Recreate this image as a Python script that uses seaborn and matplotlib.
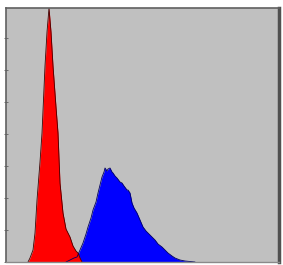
import numpy as np
import pandas as pd
import matplotlib
matplotlib.use('Agg')
import matplotlib.pyplot as plt
import seaborn as sns

# channel / count pairs
red_channel = [22, 24, 27, 29, 31, 34, 36, 39, 41, 43, 45, 47, 50, 52, 54, 57, 60, 64, 67, 70, 72, 74, 76]
red_count = [0, 4, 12, 29, 62, 100, 129, 196, 230, 254, 230, 196, 155, 129, 79, 49, 33, 25, 16, 11, 9, 4, 0]

blue_channel = [60, 64, 68, 71, 74, 77, 80, 82, 85, 87, 90, 92, 94, 96, 98, 99, 101, 102, 104, 106,
                107, 109, 111, 114, 116, 118, 121, 122, 124, 126, 128, 131, 134, 137, 140, 142,
                146, 149, 152, 156, 159, 162, 166, 169, 174, 179, 184, 189]
blue_count = [0, 2, 4, 5, 12, 19, 28, 35, 44, 52, 60, 69, 77, 85, 90, 94, 91, 93, 94, 90,
              89, 86, 84, 80, 79, 76, 72, 72, 69, 59, 54, 49, 42, 35, 31, 29,
              25, 22, 18, 15, 12, 9, 6, 4, 2, 1, 0.5, 0]

red = pd.DataFrame({'channel': red_channel, 'count': red_count})
blue = pd.DataFrame({'channel': blue_channel, 'count': blue_count})

sns.set_style('white')
fig = plt.figure(figsize=(2.83, 2.65), dpi=100)
ax = fig.add_axes([6 / 283, 3 / 265, 273 / 283, 254 / 265])
ax.set_facecolor('#c0c0c0')

for df, col, edge in [(blue, '#0000ff', '#000060'), (red, '#ff0000', '#400000')]:
    ax.fill_between(df['channel'], df['count'], color=col, lw=0)
    sns.lineplot(data=df, x='channel', y='count', color=edge, lw=0.6, ax=ax)

ax.set_xlim(0, 273)
ax.set_ylim(0, 254)
ax.set_xticks([])
ax.set_yticks(np.arange(0, 255, 32))
ax.set_yticklabels([])
ax.tick_params(axis='y', direction='inout', length=3, width=0.6, color='#606060', left=True)
ax.set_xlabel('')
ax.set_ylabel('')

for side in ['left', 'top']:
    ax.spines[side].set_color('#606060')
    ax.spines[side].set_linewidth(1.2)
ax.spines['right'].set_color('#505050')
ax.spines['right'].set_linewidth(2.5)
ax.spines['bottom'].set_color('#8a8a8a')
ax.spines['bottom'].set_linewidth(1)

fig.savefig('out.png', dpi=100)
